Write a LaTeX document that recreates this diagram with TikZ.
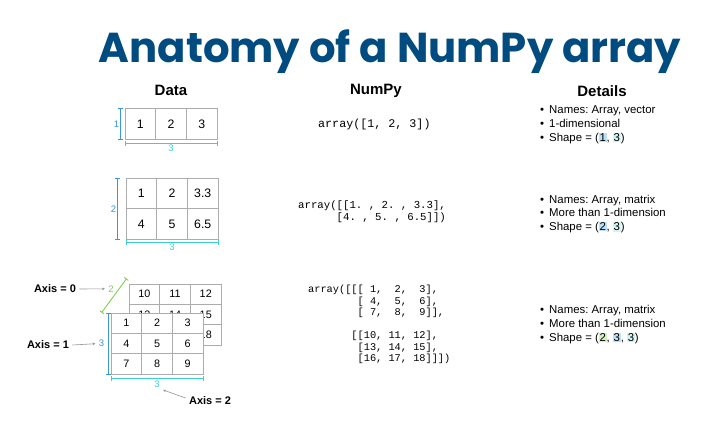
\documentclass[tikz,border=0pt]{standalone}
\usepackage{fontspec}
\setmainfont{Liberation Sans}
\setmonofont{Liberation Mono}
\newfontfamily\titlefont{Poppins}
\usetikzlibrary{arrows.meta}

\definecolor{titleblue}{HTML}{004B80}
\definecolor{axgreen}{HTML}{7DCF4F}
\definecolor{axblue}{HTML}{3A96DD}
\definecolor{axcyan}{HTML}{3CCFCF}
\definecolor{hlgreen}{HTML}{D2F2BE}
\definecolor{hlblue}{HTML}{BDE0F7}
\definecolor{hlcyan}{HTML}{D3F4F4}

\newcommand{\hlbox}[2]{{\setlength{\fboxsep}{0.7pt}\colorbox{#1}{#2}}}
\newcommand{\bul}{\textbullet\hspace{5pt}}

\begin{document}
\frenchspacing
\begin{tikzpicture}[
    x=1pt, y=-1pt,
    >=Stealth,
    header/.style={font=\bfseries\fontsize{15}{18}\selectfont},
    cell/.style={draw=gray!65, line width=0.8pt, minimum width=30.7pt,
        minimum height=30.3pt, inner sep=0pt, font=\fontsize{12.3}{14}\selectfont},
    cellsm/.style={cell, minimum height=20.4pt, font=\fontsize{10.8}{12}\selectfont},
    dimline/.style={line width=0.9pt, {Bar[width=5pt]}-{Bar[width=5pt]}},
    dimlbl/.style={font=\fontsize{9.5}{10}\selectfont, inner sep=1pt},
    axlbl/.style={font=\bfseries\fontsize{11}{13}\selectfont},
    axarr/.style={->, draw=gray!85, line width=0.6pt, shorten >=2pt,
        >={Stealth[length=3pt,width=2.6pt]}},
    code/.style n args={2}{font=\ttfamily\fontsize{#1}{#2}\selectfont,
        align=left, anchor=west, inner sep=0pt},
    detail/.style={anchor=west, align=left, inner sep=0pt,
        font=\fontsize{11.4}{13.8}\selectfont},
]
\useasboundingbox (0,0) rectangle (712,423);

\node[font=\titlefont\bfseries\fontsize{41.8}{46}\selectfont, text=titleblue,
    anchor=base] (title) at (390,62) {Anatomy of a NumPy array};

\node[header] (hdata) at (171,90) {Data};
\node[header] (hnumpy) at (376,91) {NumPy};
\node[header] (hdetails) at (602,91) {Details};

% 1-d array
\foreach \v [count=\c] in {1,2,3}
    \node[cell] (a\c) at ({140.35+(\c-1)*30.7},124) {\v};
\draw[dimline,axblue] ([xshift=-4pt]a1.north west) -- ([xshift=-4pt]a1.south west)
    node[midway,left,dimlbl] (a1lbl) {1};
\draw[dimline,axcyan] ([yshift=-4pt]a1.south west) -- ([yshift=-4pt]a3.south east)
    node[midway,below,dimlbl] (a3lbl) {3};

% 2-d array
\foreach \r/\row in {1/{1,2,3.3},2/{4,5,6.5}}
    \foreach \v [count=\c] in \row
        \node[cell] (m\r\c) at ({141.35+(\c-1)*30.7},{193.5+(\r-1)*30.5}) {\v};
\draw[dimline,axblue] ([xshift=-8pt]m11.north west) -- ([xshift=-8pt]m21.south west)
    node[midway,left,dimlbl] (m2lbl) {2};
\draw[dimline,axcyan] ([yshift=-3pt]m21.south west) -- ([yshift=-3pt]m23.south east)
    node[midway,below,dimlbl] (m3lbl) {3};

% 3-d array, back layer
\foreach \r/\row in {1/{10,11,12},2/{13,14,15},3/{16,17,18}}
    \foreach \v [count=\c] in \row
        \node[cellsm] (b\r\c) at ({144.35+(\c-1)*30.7},{294.2+(\r-1)*20.4}) {\v};
% front layer
\foreach \r/\row in {1/{1,2,3},2/{4,5,6},3/{7,8,9}}
    \foreach \v [count=\c] in \row
        \node[cellsm,fill=white] (f\r\c) at ({126.35+(\c-1)*30.7},{323.2+(\r-1)*20.4}) {\v};

\draw[dimline,axgreen] ([xshift=-9pt]f11.north west) -- ([xshift=-2pt,yshift=5pt]b11.north west)
    node[pos=0.7,left=4pt,dimlbl,text=axgreen] (g2lbl) {2};
\draw[dimline,axblue] ([xshift=-2pt]f11.north west) -- ([xshift=-2pt]f31.south west)
    node[midway,left=3pt,dimlbl] (f3lbl) {3};
\draw[dimline,axcyan] ([yshift=-4pt]f31.south west) -- ([yshift=-4pt]f33.south east)
    node[midway,below=1pt,dimlbl] (c3lbl) {3};

\node[axlbl] (ax0) at (55,289) {Axis = 0};
\node[axlbl] (ax1) at (48,345) {Axis = 1};
\node[axlbl] (ax2) at (210,401) {Axis = 2};
\draw[axarr] (ax0.east) -- (g2lbl.west);
\draw[axarr] (ax1.east) -- (f3lbl.west);
\draw[axarr] ([yshift=3pt]ax2.west) -- (c3lbl.south east);

% numpy output
\node[code={11.7pt}{13pt}] (np1) at (318,124) {array([1, 2, 3])};
\node[code={10.7pt}{12pt}] (np2) at (298,212) {array([[1. , 2. , 3.3],\\
    \phantom{array(}[4. , 5. , 6.5]])};
\node[code={10.3pt}{11.5pt}] (np3) at (308,324.5) {array([[[ 1,~~2,~~3],\\
    \phantom{array([[}[ 4,~~5,~~6],\\
    \phantom{array([[}[ 7,~~8,~~9]],\\
    \mbox{}\\
    \phantom{array([}[[10, 11, 12],\\
    \phantom{array([[}[13, 14, 15],\\
    \phantom{array([[}[16, 17, 18]]])};

% details
\node[detail] (det1) at (540,125) {\bul Names: Array, vector\\
    \bul 1-dimensional\\
    \bul Shape = (\hlbox{hlblue}{1}, \hlbox{hlcyan}{3})};
\node[detail] (det2) at (540,214) {\bul Names: Array, matrix\\
    \bul More than 1-dimension\\
    \bul Shape = (\hlbox{hlblue}{2}, \hlbox{hlcyan}{3})};
\node[detail] (det3) at (540,324.5) {\bul Names: Array, matrix\\
    \bul More than 1-dimension\\
    \bul Shape = (\hlbox{hlgreen}{2}, \hlbox{hlblue}{3}, \hlbox{hlcyan}{3})};
\end{tikzpicture}
\end{document}
